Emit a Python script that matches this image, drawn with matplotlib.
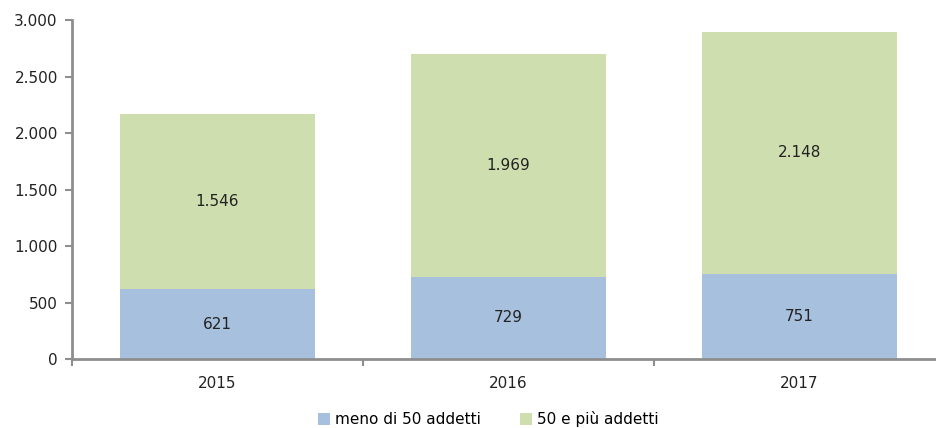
import matplotlib.pyplot as plt
import numpy as np

anni = ["2015", "2016", "2017"]
meno_50 = [621, 729, 751]
piu_50 = [1546, 1969, 2148]
y_ticks = [0, 500, 1000, 1500, 2000, 2500, 3000]

BLU = "#a6c0de"
VERDE = "#cfdeae"
GRIGIO = "#8e8e8e"


def fmt(v):
    # separatore delle migliaia all'italiana
    return f"{v:,}".replace(",", ".")


fig = plt.figure(figsize=(9.37, 4.28), dpi=100)
ax = fig.add_axes([0.0765, 0.161, 0.932, 0.792])

x = np.arange(len(anni))
b1 = ax.bar(x, meno_50, width=0.67, color=BLU, label="meno di 50 addetti")
b2 = ax.bar(x, piu_50, width=0.67, bottom=meno_50, color=VERDE, label="50 e più addetti")

for i in range(len(anni)):
    ax.text(x[i], meno_50[i] / 2, fmt(meno_50[i]), ha="center", va="center",
            fontsize=11, color="#222222")
    ax.text(x[i], meno_50[i] + piu_50[i] / 2, fmt(piu_50[i]), ha="center", va="center",
            fontsize=11, color="#222222")

ax.set_xlim(-0.5, 2.5)
ax.set_ylim(0, 3000)
ax.set_yticks(y_ticks)
ax.set_yticklabels([fmt(v) for v in y_ticks])
ax.set_xticks(x)
ax.set_xticklabels(anni)
ax.set_xticks([-0.5, 0.5, 1.5, 2.5], minor=True)
ax.tick_params(axis="x", which="major", length=0, pad=12, labelsize=11, labelcolor="#222222")
ax.tick_params(axis="x", which="minor", length=5, width=1.5, color=GRIGIO, direction="out")
ax.tick_params(axis="y", length=5, width=1.5, color=GRIGIO, labelsize=11, labelcolor="#222222", pad=5)

for s in ["top", "right"]:
    ax.spines[s].set_visible(False)
for s in ["left", "bottom"]:
    ax.spines[s].set_color(GRIGIO)
    ax.spines[s].set_linewidth(2)

fig.legend(handles=[b1, b2], loc="center", bbox_to_anchor=(0.521, 0.02), ncol=2,
           frameon=False, fontsize=11, handlelength=0.8, handleheight=0.8,
           handletextpad=0.3, columnspacing=2.6)

fig.savefig("out.png", dpi=100)
